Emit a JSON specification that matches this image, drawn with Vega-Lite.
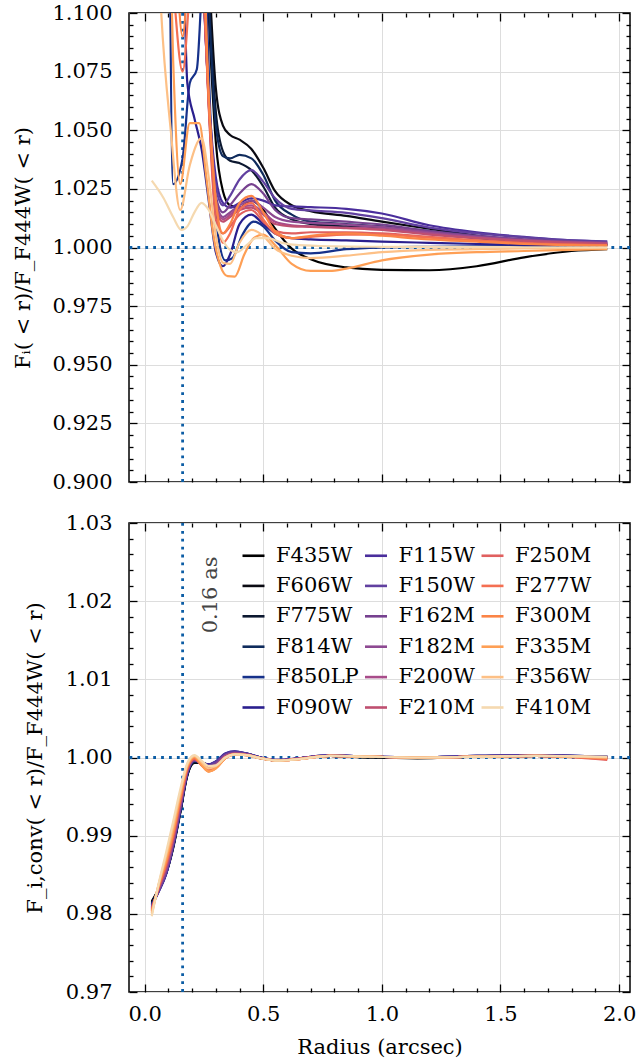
{
"$schema": "https://vega.github.io/schema/vega-lite/v6.json",
"padding": {"left": 12, "top": 1, "right": 10, "bottom": 5},
"bounds": "flush",
"spacing": 41,
"datasets": {
"top": [
{"f":"F435W","r":0.03,"v":1.40},{"f":"F435W","r":0.08,"v":1.36},{"f":"F435W","r":0.13,"v":1.32},{"f":"F435W","r":0.16,"v":1.30},{"f":"F435W","r":0.2,"v":1.26},{"f":"F435W","r":0.24,"v":1.18},{"f":"F435W","r":0.27,"v":1.10},{"f":"F435W","r":0.3,"v":1.045},{"f":"F435W","r":0.33,"v":1.024},{"f":"F435W","r":0.36,"v":1.018},{"f":"F435W","r":0.4,"v":1.017},{"f":"F435W","r":0.45,"v":1.020},{"f":"F435W","r":0.5,"v":1.016},{"f":"F435W","r":0.55,"v":1.008},{"f":"F435W","r":0.62,"v":0.9995},{"f":"F435W","r":0.7,"v":0.995},{"f":"F435W","r":0.85,"v":0.9915},{"f":"F435W","r":1.0,"v":0.9905},{"f":"F435W","r":1.2,"v":0.9903},{"f":"F435W","r":1.4,"v":0.992},{"f":"F435W","r":1.6,"v":0.9958},{"f":"F435W","r":1.8,"v":0.9985},{"f":"F435W","r":1.95,"v":0.9993},
{"f":"F606W","r":0.03,"v":1.40},{"f":"F606W","r":0.08,"v":1.36},{"f":"F606W","r":0.13,"v":1.32},{"f":"F606W","r":0.16,"v":1.30},{"f":"F606W","r":0.2,"v":1.26},{"f":"F606W","r":0.24,"v":1.19},{"f":"F606W","r":0.27,"v":1.12},{"f":"F606W","r":0.3,"v":1.068},{"f":"F606W","r":0.33,"v":1.052},{"f":"F606W","r":0.36,"v":1.048},{"f":"F606W","r":0.4,"v":1.046},{"f":"F606W","r":0.45,"v":1.042},{"f":"F606W","r":0.5,"v":1.034},{"f":"F606W","r":0.55,"v":1.024},{"f":"F606W","r":0.62,"v":1.018},{"f":"F606W","r":0.7,"v":1.0155},{"f":"F606W","r":0.85,"v":1.0135},{"f":"F606W","r":1.0,"v":1.011},{"f":"F606W","r":1.2,"v":1.008},{"f":"F606W","r":1.4,"v":1.005},{"f":"F606W","r":1.6,"v":1.003},{"f":"F606W","r":1.8,"v":1.002},{"f":"F606W","r":1.95,"v":1.0015},
{"f":"F775W","r":0.03,"v":1.40},{"f":"F775W","r":0.08,"v":1.36},{"f":"F775W","r":0.13,"v":1.32},{"f":"F775W","r":0.16,"v":1.30},{"f":"F775W","r":0.2,"v":1.26},{"f":"F775W","r":0.24,"v":1.19},{"f":"F775W","r":0.27,"v":1.11},{"f":"F775W","r":0.3,"v":1.058},{"f":"F775W","r":0.33,"v":1.041},{"f":"F775W","r":0.36,"v":1.037},{"f":"F775W","r":0.4,"v":1.036},{"f":"F775W","r":0.45,"v":1.033},{"f":"F775W","r":0.5,"v":1.026},{"f":"F775W","r":0.55,"v":1.017},{"f":"F775W","r":0.62,"v":1.012},{"f":"F775W","r":0.7,"v":1.010},{"f":"F775W","r":0.85,"v":1.009},{"f":"F775W","r":1.0,"v":1.008},{"f":"F775W","r":1.2,"v":1.006},{"f":"F775W","r":1.4,"v":1.004},{"f":"F775W","r":1.6,"v":1.0025},{"f":"F775W","r":1.8,"v":1.0015},{"f":"F775W","r":1.95,"v":1.001},
{"f":"F814W","r":0.03,"v":1.40},{"f":"F814W","r":0.08,"v":1.36},{"f":"F814W","r":0.13,"v":1.32},{"f":"F814W","r":0.16,"v":1.30},{"f":"F814W","r":0.2,"v":1.26},{"f":"F814W","r":0.24,"v":1.18},{"f":"F814W","r":0.27,"v":1.105},{"f":"F814W","r":0.3,"v":1.052},{"f":"F814W","r":0.33,"v":1.039},{"f":"F814W","r":0.36,"v":1.038},{"f":"F814W","r":0.4,"v":1.0395},{"f":"F814W","r":0.45,"v":1.038},{"f":"F814W","r":0.5,"v":1.031},{"f":"F814W","r":0.55,"v":1.020},{"f":"F814W","r":0.62,"v":1.014},{"f":"F814W","r":0.7,"v":1.011},{"f":"F814W","r":0.85,"v":1.010},{"f":"F814W","r":1.0,"v":1.009},{"f":"F814W","r":1.2,"v":1.007},{"f":"F814W","r":1.4,"v":1.005},{"f":"F814W","r":1.6,"v":1.003},{"f":"F814W","r":1.8,"v":1.002},{"f":"F814W","r":1.95,"v":1.0012},
{"f":"F850LP","r":0.03,"v":1.50},{"f":"F850LP","r":0.09,"v":1.30},{"f":"F850LP","r":0.12,"v":1.027},{"f":"F850LP","r":0.16,"v":1.038},{"f":"F850LP","r":0.19,"v":1.07},{"f":"F850LP","r":0.22,"v":1.076},{"f":"F850LP","r":0.25,"v":1.12},{"f":"F850LP","r":0.28,"v":1.05},{"f":"F850LP","r":0.31,"v":1.005},{"f":"F850LP","r":0.34,"v":0.9945},{"f":"F850LP","r":0.37,"v":0.9955},{"f":"F850LP","r":0.41,"v":1.005},{"f":"F850LP","r":0.46,"v":1.011},{"f":"F850LP","r":0.5,"v":1.009},{"f":"F850LP","r":0.55,"v":1.003},{"f":"F850LP","r":0.62,"v":0.998},{"f":"F850LP","r":0.7,"v":0.9975},{"f":"F850LP","r":0.85,"v":0.9993},{"f":"F850LP","r":1.0,"v":1.0},{"f":"F850LP","r":1.2,"v":1.0003},{"f":"F850LP","r":1.4,"v":1.0005},{"f":"F850LP","r":1.6,"v":1.0007},{"f":"F850LP","r":1.8,"v":1.0008},{"f":"F850LP","r":1.95,"v":1.001},
{"f":"F090W","r":0.03,"v":1.50},{"f":"F090W","r":0.1,"v":1.40},{"f":"F090W","r":0.15,"v":1.20},{"f":"F090W","r":0.18,"v":1.07},{"f":"F090W","r":0.21,"v":1.055},{"f":"F090W","r":0.24,"v":1.042},{"f":"F090W","r":0.27,"v":1.02},{"f":"F090W","r":0.3,"v":0.998},{"f":"F090W","r":0.33,"v":0.992},{"f":"F090W","r":0.36,"v":0.997},{"f":"F090W","r":0.4,"v":1.010},{"f":"F090W","r":0.45,"v":1.014},{"f":"F090W","r":0.5,"v":1.010},{"f":"F090W","r":0.55,"v":1.006},{"f":"F090W","r":0.62,"v":1.004},{"f":"F090W","r":0.7,"v":1.0035},{"f":"F090W","r":0.85,"v":1.003},{"f":"F090W","r":1.0,"v":1.0025},{"f":"F090W","r":1.2,"v":1.002},{"f":"F090W","r":1.4,"v":1.0015},{"f":"F090W","r":1.6,"v":1.0012},{"f":"F090W","r":1.8,"v":1.001},{"f":"F090W","r":1.95,"v":1.001},
{"f":"F115W","r":0.03,"v":1.45},{"f":"F115W","r":0.08,"v":1.42},{"f":"F115W","r":0.13,"v":1.38},{"f":"F115W","r":0.16,"v":1.35},{"f":"F115W","r":0.2,"v":1.26},{"f":"F115W","r":0.24,"v":1.13},{"f":"F115W","r":0.27,"v":1.065},{"f":"F115W","r":0.3,"v":1.03},{"f":"F115W","r":0.33,"v":1.019},{"f":"F115W","r":0.36,"v":1.017},{"f":"F115W","r":0.4,"v":1.019},{"f":"F115W","r":0.45,"v":1.021},{"f":"F115W","r":0.5,"v":1.020},{"f":"F115W","r":0.55,"v":1.018},{"f":"F115W","r":0.62,"v":1.0175},{"f":"F115W","r":0.7,"v":1.0172},{"f":"F115W","r":0.85,"v":1.0165},{"f":"F115W","r":1.0,"v":1.0145},{"f":"F115W","r":1.2,"v":1.0095},{"f":"F115W","r":1.4,"v":1.0065},{"f":"F115W","r":1.6,"v":1.0045},{"f":"F115W","r":1.8,"v":1.003},{"f":"F115W","r":1.95,"v":1.0025},
{"f":"F150W","r":0.03,"v":1.45},{"f":"F150W","r":0.08,"v":1.42},{"f":"F150W","r":0.13,"v":1.38},{"f":"F150W","r":0.16,"v":1.35},{"f":"F150W","r":0.2,"v":1.26},{"f":"F150W","r":0.24,"v":1.13},{"f":"F150W","r":0.27,"v":1.065},{"f":"F150W","r":0.3,"v":1.026},{"f":"F150W","r":0.33,"v":1.018},{"f":"F150W","r":0.36,"v":1.022},{"f":"F150W","r":0.4,"v":1.029},{"f":"F150W","r":0.45,"v":1.033},{"f":"F150W","r":0.5,"v":1.028},{"f":"F150W","r":0.55,"v":1.021},{"f":"F150W","r":0.62,"v":1.0165},{"f":"F150W","r":0.7,"v":1.0158},{"f":"F150W","r":0.85,"v":1.0148},{"f":"F150W","r":1.0,"v":1.0125},{"f":"F150W","r":1.2,"v":1.0085},{"f":"F150W","r":1.4,"v":1.006},{"f":"F150W","r":1.6,"v":1.0043},{"f":"F150W","r":1.8,"v":1.003},{"f":"F150W","r":1.95,"v":1.0025},
{"f":"F162M","r":0.03,"v":1.45},{"f":"F162M","r":0.08,"v":1.42},{"f":"F162M","r":0.13,"v":1.38},{"f":"F162M","r":0.16,"v":1.35},{"f":"F162M","r":0.2,"v":1.26},{"f":"F162M","r":0.24,"v":1.13},{"f":"F162M","r":0.27,"v":1.064},{"f":"F162M","r":0.3,"v":1.022},{"f":"F162M","r":0.33,"v":1.015},{"f":"F162M","r":0.36,"v":1.018},{"f":"F162M","r":0.4,"v":1.023},{"f":"F162M","r":0.45,"v":1.027},{"f":"F162M","r":0.5,"v":1.023},{"f":"F162M","r":0.55,"v":1.016},{"f":"F162M","r":0.62,"v":1.0125},{"f":"F162M","r":0.7,"v":1.012},{"f":"F162M","r":0.85,"v":1.011},{"f":"F162M","r":1.0,"v":1.0098},{"f":"F162M","r":1.2,"v":1.007},{"f":"F162M","r":1.4,"v":1.005},{"f":"F162M","r":1.6,"v":1.0035},{"f":"F162M","r":1.8,"v":1.0025},{"f":"F162M","r":1.95,"v":1.002},
{"f":"F182M","r":0.03,"v":1.45},{"f":"F182M","r":0.08,"v":1.42},{"f":"F182M","r":0.13,"v":1.38},{"f":"F182M","r":0.16,"v":1.35},{"f":"F182M","r":0.2,"v":1.26},{"f":"F182M","r":0.24,"v":1.13},{"f":"F182M","r":0.27,"v":1.063},{"f":"F182M","r":0.3,"v":1.02},{"f":"F182M","r":0.33,"v":1.013},{"f":"F182M","r":0.36,"v":1.015},{"f":"F182M","r":0.4,"v":1.018},{"f":"F182M","r":0.45,"v":1.020},{"f":"F182M","r":0.5,"v":1.017},{"f":"F182M","r":0.55,"v":1.013},{"f":"F182M","r":0.62,"v":1.011},{"f":"F182M","r":0.7,"v":1.0105},{"f":"F182M","r":0.85,"v":1.0098},{"f":"F182M","r":1.0,"v":1.0088},{"f":"F182M","r":1.2,"v":1.0065},{"f":"F182M","r":1.4,"v":1.0045},{"f":"F182M","r":1.6,"v":1.0032},{"f":"F182M","r":1.8,"v":1.0024},{"f":"F182M","r":1.95,"v":1.002},
{"f":"F200W","r":0.03,"v":1.45},{"f":"F200W","r":0.08,"v":1.42},{"f":"F200W","r":0.13,"v":1.38},{"f":"F200W","r":0.16,"v":1.35},{"f":"F200W","r":0.2,"v":1.26},{"f":"F200W","r":0.24,"v":1.13},{"f":"F200W","r":0.27,"v":1.062},{"f":"F200W","r":0.3,"v":1.018},{"f":"F200W","r":0.33,"v":1.012},{"f":"F200W","r":0.36,"v":1.014},{"f":"F200W","r":0.4,"v":1.017},{"f":"F200W","r":0.45,"v":1.018},{"f":"F200W","r":0.5,"v":1.015},{"f":"F200W","r":0.55,"v":1.011},{"f":"F200W","r":0.62,"v":1.0095},{"f":"F200W","r":0.7,"v":1.009},{"f":"F200W","r":0.85,"v":1.0085},{"f":"F200W","r":1.0,"v":1.008},{"f":"F200W","r":1.2,"v":1.006},{"f":"F200W","r":1.4,"v":1.0042},{"f":"F200W","r":1.6,"v":1.003},{"f":"F200W","r":1.8,"v":1.0022},{"f":"F200W","r":1.95,"v":1.0018},
{"f":"F210M","r":0.03,"v":1.45},{"f":"F210M","r":0.08,"v":1.42},{"f":"F210M","r":0.13,"v":1.38},{"f":"F210M","r":0.16,"v":1.35},{"f":"F210M","r":0.2,"v":1.26},{"f":"F210M","r":0.24,"v":1.13},{"f":"F210M","r":0.27,"v":1.061},{"f":"F210M","r":0.3,"v":1.016},{"f":"F210M","r":0.33,"v":1.011},{"f":"F210M","r":0.36,"v":1.013},{"f":"F210M","r":0.4,"v":1.016},{"f":"F210M","r":0.45,"v":1.017},{"f":"F210M","r":0.5,"v":1.014},{"f":"F210M","r":0.55,"v":1.010},{"f":"F210M","r":0.62,"v":1.009},{"f":"F210M","r":0.7,"v":1.0088},{"f":"F210M","r":0.85,"v":1.0082},{"f":"F210M","r":1.0,"v":1.0075},{"f":"F210M","r":1.2,"v":1.0055},{"f":"F210M","r":1.4,"v":1.004},{"f":"F210M","r":1.6,"v":1.0028},{"f":"F210M","r":1.8,"v":1.002},{"f":"F210M","r":1.95,"v":1.0016},
{"f":"F250M","r":0.03,"v":1.45},{"f":"F250M","r":0.08,"v":1.42},{"f":"F250M","r":0.13,"v":1.38},{"f":"F250M","r":0.16,"v":1.35},{"f":"F250M","r":0.2,"v":1.26},{"f":"F250M","r":0.24,"v":1.13},{"f":"F250M","r":0.27,"v":1.06},{"f":"F250M","r":0.3,"v":1.012},{"f":"F250M","r":0.33,"v":1.006},{"f":"F250M","r":0.36,"v":1.009},{"f":"F250M","r":0.4,"v":1.014},{"f":"F250M","r":0.45,"v":1.016},{"f":"F250M","r":0.5,"v":1.011},{"f":"F250M","r":0.55,"v":1.007},{"f":"F250M","r":0.62,"v":1.006},{"f":"F250M","r":0.7,"v":1.0065},{"f":"F250M","r":0.85,"v":1.0065},{"f":"F250M","r":1.0,"v":1.006},{"f":"F250M","r":1.2,"v":1.0045},{"f":"F250M","r":1.4,"v":1.003},{"f":"F250M","r":1.6,"v":1.002},{"f":"F250M","r":1.8,"v":1.0012},{"f":"F250M","r":1.95,"v":1.001},
{"f":"F277W","r":0.03,"v":1.45},{"f":"F277W","r":0.08,"v":1.20},{"f":"F277W","r":0.13,"v":1.10},{"f":"F277W","r":0.16,"v":1.075},{"f":"F277W","r":0.2,"v":1.12},{"f":"F277W","r":0.24,"v":1.13},{"f":"F277W","r":0.27,"v":1.062},{"f":"F277W","r":0.3,"v":1.02},{"f":"F277W","r":0.33,"v":1.002},{"f":"F277W","r":0.36,"v":1.006},{"f":"F277W","r":0.4,"v":1.016},{"f":"F277W","r":0.45,"v":1.019},{"f":"F277W","r":0.5,"v":1.012},{"f":"F277W","r":0.55,"v":1.006},{"f":"F277W","r":0.62,"v":1.004},{"f":"F277W","r":0.7,"v":1.0045},{"f":"F277W","r":0.85,"v":1.0055},{"f":"F277W","r":1.0,"v":1.0055},{"f":"F277W","r":1.2,"v":1.0042},{"f":"F277W","r":1.4,"v":1.003},{"f":"F277W","r":1.6,"v":1.0018},{"f":"F277W","r":1.8,"v":1.0012},{"f":"F277W","r":1.95,"v":1.001},
{"f":"F300M","r":0.03,"v":1.45},{"f":"F300M","r":0.08,"v":1.25},{"f":"F300M","r":0.13,"v":1.13},{"f":"F300M","r":0.16,"v":1.09},{"f":"F300M","r":0.2,"v":1.14},{"f":"F300M","r":0.24,"v":1.14},{"f":"F300M","r":0.27,"v":1.065},{"f":"F300M","r":0.3,"v":1.02},{"f":"F300M","r":0.33,"v":1.006},{"f":"F300M","r":0.36,"v":1.010},{"f":"F300M","r":0.4,"v":1.019},{"f":"F300M","r":0.45,"v":1.022},{"f":"F300M","r":0.5,"v":1.015},{"f":"F300M","r":0.55,"v":1.007},{"f":"F300M","r":0.62,"v":1.004},{"f":"F300M","r":0.7,"v":1.005},{"f":"F300M","r":0.85,"v":1.006},{"f":"F300M","r":1.0,"v":1.005},{"f":"F300M","r":1.2,"v":1.0035},{"f":"F300M","r":1.4,"v":1.0025},{"f":"F300M","r":1.6,"v":1.0015},{"f":"F300M","r":1.8,"v":1.001},{"f":"F300M","r":1.95,"v":1.0008},
{"f":"F335M","r":0.03,"v":1.45},{"f":"F335M","r":0.08,"v":1.25},{"f":"F335M","r":0.12,"v":1.08},{"f":"F335M","r":0.15,"v":1.027},{"f":"F335M","r":0.19,"v":1.053},{"f":"F335M","r":0.23,"v":1.053},{"f":"F335M","r":0.26,"v":1.03},{"f":"F335M","r":0.29,"v":1.005},{"f":"F335M","r":0.32,"v":0.992},{"f":"F335M","r":0.35,"v":0.9878},{"f":"F335M","r":0.38,"v":0.9876},{"f":"F335M","r":0.42,"v":0.997},{"f":"F335M","r":0.46,"v":1.004},{"f":"F335M","r":0.5,"v":1.0055},{"f":"F335M","r":0.55,"v":1.001},{"f":"F335M","r":0.62,"v":0.993},{"f":"F335M","r":0.7,"v":0.990},{"f":"F335M","r":0.78,"v":0.990},{"f":"F335M","r":0.85,"v":0.991},{"f":"F335M","r":1.0,"v":0.9945},{"f":"F335M","r":1.2,"v":0.997},{"f":"F335M","r":1.4,"v":0.998},{"f":"F335M","r":1.6,"v":0.9985},{"f":"F335M","r":1.8,"v":0.999},{"f":"F335M","r":1.95,"v":0.9993},
{"f":"F356W","r":0.03,"v":1.20},{"f":"F356W","r":0.07,"v":1.10},{"f":"F356W","r":0.11,"v":1.05},{"f":"F356W","r":0.15,"v":1.016},{"f":"F356W","r":0.19,"v":1.035},{"f":"F356W","r":0.24,"v":1.0466},{"f":"F356W","r":0.27,"v":1.03},{"f":"F356W","r":0.3,"v":1.005},{"f":"F356W","r":0.33,"v":0.9935},{"f":"F356W","r":0.36,"v":0.993},{"f":"F356W","r":0.4,"v":1.002},{"f":"F356W","r":0.45,"v":1.0075},{"f":"F356W","r":0.5,"v":1.005},{"f":"F356W","r":0.55,"v":0.9995},{"f":"F356W","r":0.62,"v":0.9965},{"f":"F356W","r":0.7,"v":0.9955},{"f":"F356W","r":0.85,"v":0.9965},{"f":"F356W","r":1.0,"v":0.998},{"f":"F356W","r":1.2,"v":0.999},{"f":"F356W","r":1.4,"v":0.9993},{"f":"F356W","r":1.6,"v":0.9996},{"f":"F356W","r":1.8,"v":0.9998},{"f":"F356W","r":1.95,"v":0.9999},
{"f":"F410M","r":0.03,"v":1.0285},{"f":"F410M","r":0.08,"v":1.021},{"f":"F410M","r":0.12,"v":1.013},{"f":"F410M","r":0.155,"v":1.0075},{"f":"F410M","r":0.18,"v":1.009},{"f":"F410M","r":0.21,"v":1.015},{"f":"F410M","r":0.24,"v":1.019},{"f":"F410M","r":0.27,"v":1.016},{"f":"F410M","r":0.3,"v":1.0095},{"f":"F410M","r":0.33,"v":1.003},{"f":"F410M","r":0.36,"v":0.999},{"f":"F410M","r":0.39,"v":0.998},{"f":"F410M","r":0.43,"v":1.001},{"f":"F410M","r":0.47,"v":1.004},{"f":"F410M","r":0.52,"v":1.004},{"f":"F410M","r":0.58,"v":1.002},{"f":"F410M","r":0.65,"v":1.001},{"f":"F410M","r":0.8,"v":1.0005},{"f":"F410M","r":1.0,"v":1.0003},{"f":"F410M","r":1.3,"v":1.0002},{"f":"F410M","r":1.6,"v":1.0001},{"f":"F410M","r":1.95,"v":1.0}
],
"bot": [
{"f":"F435W","r":0.03,"v":0.9816},{"f":"F435W","r":0.06,"v":0.9832},{"f":"F435W","r":0.09,"v":0.9851},{"f":"F435W","r":0.12,"v":0.9884},{"f":"F435W","r":0.15,"v":0.9929},{"f":"F435W","r":0.18,"v":0.9977},{"f":"F435W","r":0.21,"v":0.9993},{"f":"F435W","r":0.24,"v":0.9993},{"f":"F435W","r":0.27,"v":0.9991},{"f":"F435W","r":0.3,"v":0.9994},{"f":"F435W","r":0.34,"v":1.0003},{"f":"F435W","r":0.38,"v":1.0006},{"f":"F435W","r":0.43,"v":1.0004},{"f":"F435W","r":0.49,"v":0.9999},{"f":"F435W","r":0.56,"v":0.9996},{"f":"F435W","r":0.65,"v":0.9999},{"f":"F435W","r":0.78,"v":1.0002},{"f":"F435W","r":0.95,"v":1.0},{"f":"F435W","r":1.15,"v":0.9999},{"f":"F435W","r":1.4,"v":1.0001},{"f":"F435W","r":1.65,"v":1.0002},{"f":"F435W","r":1.95,"v":1.0},
{"f":"F606W","r":0.03,"v":0.9815},{"f":"F606W","r":0.06,"v":0.9832},{"f":"F606W","r":0.09,"v":0.9852},{"f":"F606W","r":0.12,"v":0.9885},{"f":"F606W","r":0.15,"v":0.993},{"f":"F606W","r":0.18,"v":0.9978},{"f":"F606W","r":0.21,"v":0.9994},{"f":"F606W","r":0.24,"v":0.9993},{"f":"F606W","r":0.27,"v":0.9991},{"f":"F606W","r":0.3,"v":0.9994},{"f":"F606W","r":0.34,"v":1.0003},{"f":"F606W","r":0.38,"v":1.0006},{"f":"F606W","r":0.43,"v":1.0004},{"f":"F606W","r":0.49,"v":0.9999},{"f":"F606W","r":0.56,"v":0.9996},{"f":"F606W","r":0.65,"v":0.9999},{"f":"F606W","r":0.78,"v":1.0002},{"f":"F606W","r":0.95,"v":1.0},{"f":"F606W","r":1.15,"v":1.0},{"f":"F606W","r":1.4,"v":1.0001},{"f":"F606W","r":1.65,"v":1.0002},{"f":"F606W","r":1.95,"v":1.0},
{"f":"F775W","r":0.03,"v":0.9814},{"f":"F775W","r":0.06,"v":0.9831},{"f":"F775W","r":0.09,"v":0.9852},{"f":"F775W","r":0.12,"v":0.9886},{"f":"F775W","r":0.15,"v":0.9931},{"f":"F775W","r":0.18,"v":0.9978},{"f":"F775W","r":0.21,"v":0.9994},{"f":"F775W","r":0.24,"v":0.9993},{"f":"F775W","r":0.27,"v":0.9991},{"f":"F775W","r":0.3,"v":0.9994},{"f":"F775W","r":0.34,"v":1.0004},{"f":"F775W","r":0.38,"v":1.0006},{"f":"F775W","r":0.43,"v":1.0004},{"f":"F775W","r":0.49,"v":0.9999},{"f":"F775W","r":0.56,"v":0.9996},{"f":"F775W","r":0.65,"v":0.9999},{"f":"F775W","r":0.78,"v":1.0002},{"f":"F775W","r":0.95,"v":1.0001},{"f":"F775W","r":1.15,"v":1.0},{"f":"F775W","r":1.4,"v":1.0001},{"f":"F775W","r":1.65,"v":1.0002},{"f":"F775W","r":1.95,"v":1.0},
{"f":"F814W","r":0.03,"v":0.9813},{"f":"F814W","r":0.06,"v":0.9831},{"f":"F814W","r":0.09,"v":0.9852},{"f":"F814W","r":0.12,"v":0.9886},{"f":"F814W","r":0.15,"v":0.9931},{"f":"F814W","r":0.18,"v":0.9979},{"f":"F814W","r":0.21,"v":0.9995},{"f":"F814W","r":0.24,"v":0.9993},{"f":"F814W","r":0.27,"v":0.9991},{"f":"F814W","r":0.3,"v":0.9994},{"f":"F814W","r":0.34,"v":1.0004},{"f":"F814W","r":0.38,"v":1.0007},{"f":"F814W","r":0.43,"v":1.0005},{"f":"F814W","r":0.49,"v":1.0},{"f":"F814W","r":0.56,"v":0.9996},{"f":"F814W","r":0.65,"v":0.9999},{"f":"F814W","r":0.78,"v":1.0002},{"f":"F814W","r":0.95,"v":1.0001},{"f":"F814W","r":1.15,"v":1.0},{"f":"F814W","r":1.4,"v":1.0001},{"f":"F814W","r":1.65,"v":1.0002},{"f":"F814W","r":1.95,"v":1.0001},
{"f":"F850LP","r":0.03,"v":0.9812},{"f":"F850LP","r":0.06,"v":0.983},{"f":"F850LP","r":0.09,"v":0.9851},{"f":"F850LP","r":0.12,"v":0.9886},{"f":"F850LP","r":0.15,"v":0.9932},{"f":"F850LP","r":0.18,"v":0.998},{"f":"F850LP","r":0.21,"v":0.9996},{"f":"F850LP","r":0.24,"v":0.9994},{"f":"F850LP","r":0.27,"v":0.9991},{"f":"F850LP","r":0.3,"v":0.9994},{"f":"F850LP","r":0.34,"v":1.0004},{"f":"F850LP","r":0.38,"v":1.0007},{"f":"F850LP","r":0.43,"v":1.0005},{"f":"F850LP","r":0.49,"v":1.0},{"f":"F850LP","r":0.56,"v":0.9996},{"f":"F850LP","r":0.65,"v":0.9999},{"f":"F850LP","r":0.78,"v":1.0002},{"f":"F850LP","r":0.95,"v":1.0001},{"f":"F850LP","r":1.15,"v":1.0},{"f":"F850LP","r":1.4,"v":1.0002},{"f":"F850LP","r":1.65,"v":1.0003},{"f":"F850LP","r":1.95,"v":1.0001},
{"f":"F090W","r":0.03,"v":0.9811},{"f":"F090W","r":0.06,"v":0.9829},{"f":"F090W","r":0.09,"v":0.985},{"f":"F090W","r":0.12,"v":0.9886},{"f":"F090W","r":0.15,"v":0.9932},{"f":"F090W","r":0.18,"v":0.998},{"f":"F090W","r":0.21,"v":0.9996},{"f":"F090W","r":0.24,"v":0.9994},{"f":"F090W","r":0.27,"v":0.9991},{"f":"F090W","r":0.3,"v":0.9995},{"f":"F090W","r":0.34,"v":1.0005},{"f":"F090W","r":0.38,"v":1.0008},{"f":"F090W","r":0.43,"v":1.0005},{"f":"F090W","r":0.49,"v":1.0},{"f":"F090W","r":0.56,"v":0.9996},{"f":"F090W","r":0.65,"v":0.9999},{"f":"F090W","r":0.78,"v":1.0003},{"f":"F090W","r":0.95,"v":1.0001},{"f":"F090W","r":1.15,"v":1.0},{"f":"F090W","r":1.4,"v":1.0002},{"f":"F090W","r":1.65,"v":1.0003},{"f":"F090W","r":1.95,"v":1.0001},
{"f":"F115W","r":0.03,"v":0.9811},{"f":"F115W","r":0.06,"v":0.9829},{"f":"F115W","r":0.09,"v":0.9851},{"f":"F115W","r":0.12,"v":0.9887},{"f":"F115W","r":0.15,"v":0.9933},{"f":"F115W","r":0.18,"v":0.9981},{"f":"F115W","r":0.21,"v":0.9996},{"f":"F115W","r":0.24,"v":0.9994},{"f":"F115W","r":0.27,"v":0.9991},{"f":"F115W","r":0.3,"v":0.9995},{"f":"F115W","r":0.34,"v":1.0005},{"f":"F115W","r":0.38,"v":1.0008},{"f":"F115W","r":0.43,"v":1.0005},{"f":"F115W","r":0.49,"v":1.0},{"f":"F115W","r":0.56,"v":0.9997},{"f":"F115W","r":0.65,"v":0.9999},{"f":"F115W","r":0.78,"v":1.0003},{"f":"F115W","r":0.95,"v":1.0001},{"f":"F115W","r":1.15,"v":1.0},{"f":"F115W","r":1.4,"v":1.0002},{"f":"F115W","r":1.65,"v":1.0003},{"f":"F115W","r":1.95,"v":1.0001},
{"f":"F150W","r":0.03,"v":0.981},{"f":"F150W","r":0.06,"v":0.983},{"f":"F150W","r":0.09,"v":0.9852},{"f":"F150W","r":0.12,"v":0.9888},{"f":"F150W","r":0.15,"v":0.9934},{"f":"F150W","r":0.18,"v":0.9981},{"f":"F150W","r":0.21,"v":0.9996},{"f":"F150W","r":0.24,"v":0.9993},{"f":"F150W","r":0.27,"v":0.999},{"f":"F150W","r":0.3,"v":0.9994},{"f":"F150W","r":0.34,"v":1.0004},{"f":"F150W","r":0.38,"v":1.0007},{"f":"F150W","r":0.43,"v":1.0005},{"f":"F150W","r":0.49,"v":1.0},{"f":"F150W","r":0.56,"v":0.9997},{"f":"F150W","r":0.65,"v":0.9999},{"f":"F150W","r":0.78,"v":1.0003},{"f":"F150W","r":0.95,"v":1.0001},{"f":"F150W","r":1.15,"v":1.0},{"f":"F150W","r":1.4,"v":1.0002},{"f":"F150W","r":1.65,"v":1.0003},{"f":"F150W","r":1.95,"v":1.0},
{"f":"F162M","r":0.03,"v":0.9809},{"f":"F162M","r":0.06,"v":0.9831},{"f":"F162M","r":0.09,"v":0.9854},{"f":"F162M","r":0.12,"v":0.989},{"f":"F162M","r":0.15,"v":0.9936},{"f":"F162M","r":0.18,"v":0.9982},{"f":"F162M","r":0.21,"v":0.9997},{"f":"F162M","r":0.24,"v":0.9993},{"f":"F162M","r":0.27,"v":0.9989},{"f":"F162M","r":0.3,"v":0.9992},{"f":"F162M","r":0.34,"v":1.0003},{"f":"F162M","r":0.38,"v":1.0006},{"f":"F162M","r":0.43,"v":1.0004},{"f":"F162M","r":0.49,"v":0.9999},{"f":"F162M","r":0.56,"v":0.9996},{"f":"F162M","r":0.65,"v":0.9999},{"f":"F162M","r":0.78,"v":1.0002},{"f":"F162M","r":0.95,"v":1.0001},{"f":"F162M","r":1.15,"v":1.0},{"f":"F162M","r":1.4,"v":1.0001},{"f":"F162M","r":1.65,"v":1.0002},{"f":"F162M","r":1.95,"v":1.0},
{"f":"F182M","r":0.03,"v":0.9808},{"f":"F182M","r":0.06,"v":0.9832},{"f":"F182M","r":0.09,"v":0.9856},{"f":"F182M","r":0.12,"v":0.9892},{"f":"F182M","r":0.15,"v":0.9938},{"f":"F182M","r":0.18,"v":0.9983},{"f":"F182M","r":0.21,"v":0.9997},{"f":"F182M","r":0.24,"v":0.9992},{"f":"F182M","r":0.27,"v":0.9988},{"f":"F182M","r":0.3,"v":0.9991},{"f":"F182M","r":0.34,"v":1.0002},{"f":"F182M","r":0.38,"v":1.0005},{"f":"F182M","r":0.43,"v":1.0004},{"f":"F182M","r":0.49,"v":0.9999},{"f":"F182M","r":0.56,"v":0.9996},{"f":"F182M","r":0.65,"v":0.9999},{"f":"F182M","r":0.78,"v":1.0002},{"f":"F182M","r":0.95,"v":1.0001},{"f":"F182M","r":1.15,"v":1.0},{"f":"F182M","r":1.4,"v":1.0001},{"f":"F182M","r":1.65,"v":1.0002},{"f":"F182M","r":1.95,"v":1.0},
{"f":"F200W","r":0.03,"v":0.9807},{"f":"F200W","r":0.06,"v":0.9833},{"f":"F200W","r":0.09,"v":0.9858},{"f":"F200W","r":0.12,"v":0.9894},{"f":"F200W","r":0.15,"v":0.994},{"f":"F200W","r":0.18,"v":0.9984},{"f":"F200W","r":0.21,"v":0.9998},{"f":"F200W","r":0.24,"v":0.9992},{"f":"F200W","r":0.27,"v":0.9987},{"f":"F200W","r":0.3,"v":0.999},{"f":"F200W","r":0.34,"v":1.0002},{"f":"F200W","r":0.38,"v":1.0005},{"f":"F200W","r":0.43,"v":1.0004},{"f":"F200W","r":0.49,"v":0.9999},{"f":"F200W","r":0.56,"v":0.9996},{"f":"F200W","r":0.65,"v":0.9999},{"f":"F200W","r":0.78,"v":1.0002},{"f":"F200W","r":0.95,"v":1.0001},{"f":"F200W","r":1.15,"v":1.0},{"f":"F200W","r":1.4,"v":1.0001},{"f":"F200W","r":1.65,"v":1.0002},{"f":"F200W","r":1.95,"v":0.9999},
{"f":"F210M","r":0.03,"v":0.9806},{"f":"F210M","r":0.06,"v":0.9834},{"f":"F210M","r":0.09,"v":0.986},{"f":"F210M","r":0.12,"v":0.9896},{"f":"F210M","r":0.15,"v":0.9942},{"f":"F210M","r":0.18,"v":0.9985},{"f":"F210M","r":0.21,"v":0.9998},{"f":"F210M","r":0.24,"v":0.9991},{"f":"F210M","r":0.27,"v":0.9986},{"f":"F210M","r":0.3,"v":0.9989},{"f":"F210M","r":0.34,"v":1.0001},{"f":"F210M","r":0.38,"v":1.0005},{"f":"F210M","r":0.43,"v":1.0003},{"f":"F210M","r":0.49,"v":0.9999},{"f":"F210M","r":0.56,"v":0.9996},{"f":"F210M","r":0.65,"v":0.9998},{"f":"F210M","r":0.78,"v":1.0002},{"f":"F210M","r":0.95,"v":1.0001},{"f":"F210M","r":1.15,"v":1.0},{"f":"F210M","r":1.4,"v":1.0001},{"f":"F210M","r":1.65,"v":1.0002},{"f":"F210M","r":1.95,"v":0.9999},
{"f":"F250M","r":0.03,"v":0.9805},{"f":"F250M","r":0.06,"v":0.9835},{"f":"F250M","r":0.09,"v":0.9862},{"f":"F250M","r":0.12,"v":0.9898},{"f":"F250M","r":0.15,"v":0.9944},{"f":"F250M","r":0.18,"v":0.9986},{"f":"F250M","r":0.21,"v":0.9999},{"f":"F250M","r":0.24,"v":0.9991},{"f":"F250M","r":0.27,"v":0.9985},{"f":"F250M","r":0.3,"v":0.9988},{"f":"F250M","r":0.34,"v":1.0},{"f":"F250M","r":0.38,"v":1.0004},{"f":"F250M","r":0.43,"v":1.0003},{"f":"F250M","r":0.49,"v":0.9999},{"f":"F250M","r":0.56,"v":0.9996},{"f":"F250M","r":0.65,"v":0.9998},{"f":"F250M","r":0.78,"v":1.0002},{"f":"F250M","r":0.95,"v":1.0001},{"f":"F250M","r":1.15,"v":1.0},{"f":"F250M","r":1.4,"v":1.0001},{"f":"F250M","r":1.65,"v":1.0002},{"f":"F250M","r":1.95,"v":0.9997},
{"f":"F277W","r":0.03,"v":0.9804},{"f":"F277W","r":0.06,"v":0.9836},{"f":"F277W","r":0.09,"v":0.9864},{"f":"F277W","r":0.12,"v":0.9901},{"f":"F277W","r":0.15,"v":0.9946},{"f":"F277W","r":0.18,"v":0.9987},{"f":"F277W","r":0.21,"v":0.9999},{"f":"F277W","r":0.24,"v":0.999},{"f":"F277W","r":0.27,"v":0.9983},{"f":"F277W","r":0.3,"v":0.9987},{"f":"F277W","r":0.34,"v":0.9999},{"f":"F277W","r":0.38,"v":1.0004},{"f":"F277W","r":0.43,"v":1.0003},{"f":"F277W","r":0.49,"v":0.9999},{"f":"F277W","r":0.56,"v":0.9996},{"f":"F277W","r":0.65,"v":0.9998},{"f":"F277W","r":0.78,"v":1.0002},{"f":"F277W","r":0.95,"v":1.0001},{"f":"F277W","r":1.15,"v":1.0},{"f":"F277W","r":1.4,"v":1.0001},{"f":"F277W","r":1.65,"v":1.0002},{"f":"F277W","r":1.95,"v":0.9998},
{"f":"F300M","r":0.03,"v":0.9803},{"f":"F300M","r":0.06,"v":0.9837},{"f":"F300M","r":0.09,"v":0.9866},{"f":"F300M","r":0.12,"v":0.9903},{"f":"F300M","r":0.15,"v":0.9948},{"f":"F300M","r":0.18,"v":0.9988},{"f":"F300M","r":0.21,"v":1.0},{"f":"F300M","r":0.24,"v":0.999},{"f":"F300M","r":0.27,"v":0.9982},{"f":"F300M","r":0.3,"v":0.9986},{"f":"F300M","r":0.34,"v":0.9999},{"f":"F300M","r":0.38,"v":1.0004},{"f":"F300M","r":0.43,"v":1.0003},{"f":"F300M","r":0.49,"v":0.9999},{"f":"F300M","r":0.56,"v":0.9996},{"f":"F300M","r":0.65,"v":0.9998},{"f":"F300M","r":0.78,"v":1.0002},{"f":"F300M","r":0.95,"v":1.0001},{"f":"F300M","r":1.15,"v":1.0},{"f":"F300M","r":1.4,"v":1.0001},{"f":"F300M","r":1.65,"v":1.0002},{"f":"F300M","r":1.95,"v":0.9999},
{"f":"F335M","r":0.03,"v":0.9801},{"f":"F335M","r":0.06,"v":0.9838},{"f":"F335M","r":0.09,"v":0.9869},{"f":"F335M","r":0.12,"v":0.9906},{"f":"F335M","r":0.15,"v":0.9951},{"f":"F335M","r":0.18,"v":0.9989},{"f":"F335M","r":0.21,"v":1.0001},{"f":"F335M","r":0.24,"v":0.9991},{"f":"F335M","r":0.27,"v":0.9982},{"f":"F335M","r":0.3,"v":0.9986},{"f":"F335M","r":0.34,"v":0.9999},{"f":"F335M","r":0.38,"v":1.0004},{"f":"F335M","r":0.43,"v":1.0003},{"f":"F335M","r":0.49,"v":0.9999},{"f":"F335M","r":0.56,"v":0.9996},{"f":"F335M","r":0.65,"v":0.9998},{"f":"F335M","r":0.78,"v":1.0002},{"f":"F335M","r":0.95,"v":1.0001},{"f":"F335M","r":1.15,"v":1.0},{"f":"F335M","r":1.4,"v":1.0001},{"f":"F335M","r":1.65,"v":1.0002},{"f":"F335M","r":1.95,"v":1.0},
{"f":"F356W","r":0.03,"v":0.9799},{"f":"F356W","r":0.06,"v":0.9839},{"f":"F356W","r":0.09,"v":0.9874},{"f":"F356W","r":0.12,"v":0.9912},{"f":"F356W","r":0.15,"v":0.9955},{"f":"F356W","r":0.18,"v":0.9991},{"f":"F356W","r":0.21,"v":1.0002},{"f":"F356W","r":0.24,"v":0.9994},{"f":"F356W","r":0.27,"v":0.9986},{"f":"F356W","r":0.3,"v":0.9989},{"f":"F356W","r":0.34,"v":1.0},{"f":"F356W","r":0.38,"v":1.0004},{"f":"F356W","r":0.43,"v":1.0003},{"f":"F356W","r":0.49,"v":0.9999},{"f":"F356W","r":0.56,"v":0.9996},{"f":"F356W","r":0.65,"v":0.9998},{"f":"F356W","r":0.78,"v":1.0002},{"f":"F356W","r":0.95,"v":1.0001},{"f":"F356W","r":1.15,"v":1.0},{"f":"F356W","r":1.4,"v":1.0001},{"f":"F356W","r":1.65,"v":1.0002},{"f":"F356W","r":1.95,"v":1.0},
{"f":"F410M","r":0.03,"v":0.9797},{"f":"F410M","r":0.06,"v":0.984},{"f":"F410M","r":0.09,"v":0.9878},{"f":"F410M","r":0.12,"v":0.9918},{"f":"F410M","r":0.15,"v":0.9959},{"f":"F410M","r":0.18,"v":0.9993},{"f":"F410M","r":0.21,"v":1.0003},{"f":"F410M","r":0.24,"v":0.9996},{"f":"F410M","r":0.27,"v":0.9989},{"f":"F410M","r":0.3,"v":0.999},{"f":"F410M","r":0.34,"v":1.0},{"f":"F410M","r":0.38,"v":1.0004},{"f":"F410M","r":0.43,"v":1.0003},{"f":"F410M","r":0.49,"v":0.9999},{"f":"F410M","r":0.56,"v":0.9996},{"f":"F410M","r":0.65,"v":0.9998},{"f":"F410M","r":0.78,"v":1.0002},{"f":"F410M","r":0.95,"v":1.0001},{"f":"F410M","r":1.15,"v":1.0},{"f":"F410M","r":1.4,"v":1.0001},{"f":"F410M","r":1.65,"v":1.0002},{"f":"F410M","r":1.95,"v":1.0001}
]
},
"vconcat": [
{
"width": 501, "height": 469,
"layer": [
{"data": {"values": [{}]}, "mark": {"type": "rule", "color": "#0C5DA5", "strokeWidth": 2.8, "strokeDash": [2.8, 5.1]},
 "encoding": {"x": {"datum": 0.16, "type": "quantitative", "scale": {"domain": [-0.066, 2.046], "nice": false, "zero": false},
   "axis": {"orient": "bottom", "values": [0.1,0.2,0.3,0.4,0.6,0.7,0.8,0.9,1.1,1.2,1.3,1.4,1.6,1.7,1.8,1.9], "labels": false, "grid": false, "tickSize": -4, "title": null}}}},
{"data": {"values": [{}]}, "mark": {"type": "rule", "color": "#0C5DA5", "strokeWidth": 2.8, "strokeDash": [2.8, 5.1]},
 "encoding": {"y": {"datum": 1.0, "type": "quantitative", "scale": {"domain": [0.9, 1.1], "nice": false, "zero": false},
   "axis": {"orient": "left", "values": [0.905,0.91,0.915,0.92,0.93,0.935,0.94,0.945,0.955,0.96,0.965,0.97,0.98,0.985,0.99,0.995,1.005,1.01,1.015,1.02,1.03,1.035,1.04,1.045,1.055,1.06,1.065,1.07,1.08,1.085,1.09,1.095], "labels": false, "grid": false, "tickSize": -4, "title": null}}}},
{"data": {"name": "top"}, "mark": {"type": "line", "strokeWidth": 2.2, "clip": true, "interpolate": "monotone"},
 "encoding": {
   "x": {"field": "r", "type": "quantitative", "scale": {"domain": [-0.066, 2.046], "nice": false, "zero": false},
     "axis": {"orient": "bottom", "values": [0, 0.5, 1, 1.5, 2], "labels": false, "ticks": false, "grid": true, "title": null}},
   "y": {"field": "v", "type": "quantitative", "scale": {"domain": [0.9, 1.1], "nice": false, "zero": false},
     "axis": {"orient": "left", "values": [0.9,0.925,0.95,0.975,1.0,1.025,1.05,1.075,1.1], "format": ".3f", "grid": true, "ticks": false, "labelPadding": 17, "title": "Fᵢ( < r)/F_F444W( < r)", "titlePadding": 18}},
   "color": {"field": "f", "type": "nominal", "legend": null,
     "scale": {"domain": ["F435W","F606W","F775W","F814W","F850LP","F090W","F115W","F150W","F162M","F182M","F200W","F210M","F250M","F277W","F300M","F335M","F356W","F410M"],
               "range": ["#000000","#0a0a12","#0c1830","#0f2b5c","#16318a","#2a1f8e","#4a2e9c","#6140a0","#76418f","#8e4a92","#a84c8a","#bf4f70","#e0605f","#f46f52","#fb8446","#fe9f55","#fdc086","#f5d9b0"]}}
 }},
{"data": {"values": [{}]}, "mark": {"type": "point", "opacity": 0},
 "encoding": {
   "x": {"datum": 1, "type": "quantitative", "scale": {"domain": [-0.066, 2.046], "nice": false, "zero": false}, "axis": {"orient": "bottom", "values": [0, 0.5, 1, 1.5, 2], "labels": false, "grid": false, "tickSize": -8, "title": null}},
   "y": {"datum": 1, "type": "quantitative", "scale": {"domain": [0.9, 1.1], "nice": false, "zero": false}, "axis": {"orient": "left", "values": [0.9,0.925,0.95,0.975,1.0,1.025,1.05,1.075,1.1], "labels": false, "grid": false, "tickSize": -8, "title": null}}
 }},
{"data": {"values": [{}]}, "mark": {"type": "point", "opacity": 0},
 "encoding": {
   "x": {"datum": 1, "type": "quantitative", "scale": {"domain": [-0.066, 2.046], "nice": false, "zero": false}, "axis": {"orient": "top", "values": [0, 0.5, 1, 1.5, 2], "labels": false, "grid": false, "tickSize": -8, "title": null}},
   "y": {"datum": 1, "type": "quantitative", "scale": {"domain": [0.9, 1.1], "nice": false, "zero": false}, "axis": {"orient": "right", "values": [0.9,0.925,0.95,0.975,1.0,1.025,1.05,1.075,1.1], "labels": false, "grid": false, "tickSize": -8, "title": null}}
 }},
{"data": {"values": [{}]}, "mark": {"type": "point", "opacity": 0},
 "encoding": {
   "x": {"datum": 1, "type": "quantitative", "scale": {"domain": [-0.066, 2.046], "nice": false, "zero": false}, "axis": {"orient": "top", "values": [0.1,0.2,0.3,0.4,0.6,0.7,0.8,0.9,1.1,1.2,1.3,1.4,1.6,1.7,1.8,1.9], "labels": false, "grid": false, "tickSize": -4, "title": null}},
   "y": {"datum": 1, "type": "quantitative", "scale": {"domain": [0.9, 1.1], "nice": false, "zero": false}, "axis": {"orient": "right", "values": [0.905,0.91,0.915,0.92,0.93,0.935,0.94,0.945,0.955,0.96,0.965,0.97,0.98,0.985,0.99,0.995,1.005,1.01,1.015,1.02,1.03,1.035,1.04,1.045,1.055,1.06,1.065,1.07,1.08,1.085,1.09,1.095], "labels": false, "grid": false, "tickSize": -4, "title": null}}
 }}
],
"resolve": {"axis": {"x": "independent", "y": "independent"}}
},
{
"width": 501, "height": 469,
"layer": [
{"data": {"values": [{}]}, "mark": {"type": "rule", "color": "#0C5DA5", "strokeWidth": 2.8, "strokeDash": [2.8, 5.1]},
 "encoding": {"x": {"datum": 0.16, "type": "quantitative", "scale": {"domain": [-0.066, 2.046], "nice": false, "zero": false},
   "axis": {"orient": "bottom", "values": [0.1,0.2,0.3,0.4,0.6,0.7,0.8,0.9,1.1,1.2,1.3,1.4,1.6,1.7,1.8,1.9], "labels": false, "grid": false, "tickSize": -4, "title": null}}}},
{"data": {"values": [{}]}, "mark": {"type": "rule", "color": "#0C5DA5", "strokeWidth": 2.8, "strokeDash": [2.8, 5.1]},
 "encoding": {"y": {"datum": 1.0, "type": "quantitative", "scale": {"domain": [0.97, 1.03], "nice": false, "zero": false},
   "axis": {"orient": "left", "values": [0.972,0.974,0.976,0.978,0.982,0.984,0.986,0.988,0.992,0.994,0.996,0.998,1.002,1.004,1.006,1.008,1.012,1.014,1.016,1.018,1.022,1.024,1.026,1.028], "labels": false, "grid": false, "tickSize": -4, "title": null}}}},
{"data": {"name": "bot"}, "mark": {"type": "line", "strokeWidth": 2.2, "clip": true, "interpolate": "monotone"},
 "encoding": {
   "x": {"field": "r", "type": "quantitative", "scale": {"domain": [-0.066, 2.046], "nice": false, "zero": false},
     "axis": {"orient": "bottom", "values": [0, 0.5, 1, 1.5, 2], "format": ".1f", "grid": true, "ticks": false, "labelPadding": 11, "title": "Radius (arcsec)", "titlePadding": 12}},
   "y": {"field": "v", "type": "quantitative", "scale": {"domain": [0.97, 1.03], "nice": false, "zero": false},
     "axis": {"orient": "left", "values": [0.97,0.98,0.99,1.0,1.01,1.02,1.03], "format": ".2f", "grid": true, "ticks": false, "labelPadding": 17, "title": "F_i,conv( < r)/F_F444W( < r)", "titlePadding": 20}},
   "color": {"field": "f", "type": "nominal",
     "scale": {"domain": ["F435W","F606W","F775W","F814W","F850LP","F090W","F115W","F150W","F162M","F182M","F200W","F210M","F250M","F277W","F300M","F335M","F356W","F410M"],
               "range": ["#000000","#0a0a12","#0c1830","#0f2b5c","#16318a","#2a1f8e","#4a2e9c","#6140a0","#76418f","#8e4a92","#a84c8a","#bf4f70","#e0605f","#f46f52","#fb8446","#fe9f55","#fdc086","#f5d9b0"]},
     "legend": {"orient": "none", "legendX": 112, "legendY": 20, "columns": 3, "title": null, "symbolType": "stroke", "symbolStrokeWidth": 2.6, "symbolSize": 484, "labelFont": "DejaVu Serif, Liberation Serif, serif", "labelFontSize": 21, "labelColor": "#000", "labelOffset": 10, "rowPadding": 7.4, "columnPadding": 0.5, "padding": 0}}
 }},
{"data": {"values": [{}]}, "mark": {"type": "text", "angle": 270, "align": "center", "baseline": "middle", "font": "DejaVu Serif, Liberation Serif, serif", "fontSize": 21, "color": "#444444"},
 "encoding": {
   "x": {"datum": 0.281, "type": "quantitative", "axis": null},
   "y": {"datum": 1.0208, "type": "quantitative", "axis": null},
   "text": {"value": "0.16 as"}
 }},
{"data": {"values": [{}]}, "mark": {"type": "point", "opacity": 0},
 "encoding": {
   "x": {"datum": 1, "type": "quantitative", "scale": {"domain": [-0.066, 2.046], "nice": false, "zero": false}, "axis": {"orient": "bottom", "values": [0, 0.5, 1, 1.5, 2], "labels": false, "grid": false, "tickSize": -8, "title": null}},
   "y": {"datum": 1, "type": "quantitative", "scale": {"domain": [0.97, 1.03], "nice": false, "zero": false}, "axis": {"orient": "left", "values": [0.97,0.98,0.99,1.0,1.01,1.02,1.03], "labels": false, "grid": false, "tickSize": -8, "title": null}}
 }},
{"data": {"values": [{}]}, "mark": {"type": "point", "opacity": 0},
 "encoding": {
   "x": {"datum": 1, "type": "quantitative", "scale": {"domain": [-0.066, 2.046], "nice": false, "zero": false}, "axis": {"orient": "top", "values": [0, 0.5, 1, 1.5, 2], "labels": false, "grid": false, "tickSize": -8, "title": null}},
   "y": {"datum": 1, "type": "quantitative", "scale": {"domain": [0.97, 1.03], "nice": false, "zero": false}, "axis": {"orient": "right", "values": [0.97,0.98,0.99,1.0,1.01,1.02,1.03], "labels": false, "grid": false, "tickSize": -8, "title": null}}
 }},
{"data": {"values": [{}]}, "mark": {"type": "point", "opacity": 0},
 "encoding": {
   "x": {"datum": 1, "type": "quantitative", "scale": {"domain": [-0.066, 2.046], "nice": false, "zero": false}, "axis": {"orient": "top", "values": [0.1,0.2,0.3,0.4,0.6,0.7,0.8,0.9,1.1,1.2,1.3,1.4,1.6,1.7,1.8,1.9], "labels": false, "grid": false, "tickSize": -4, "title": null}},
   "y": {"datum": 1, "type": "quantitative", "scale": {"domain": [0.97, 1.03], "nice": false, "zero": false}, "axis": {"orient": "right", "values": [0.972,0.974,0.976,0.978,0.982,0.984,0.986,0.988,0.992,0.994,0.996,0.998,1.002,1.004,1.006,1.008,1.012,1.014,1.016,1.018,1.022,1.024,1.026,1.028], "labels": false, "grid": false, "tickSize": -4, "title": null}}
 }}
],
"resolve": {"axis": {"x": "independent", "y": "independent"}}
}
],
"resolve": {"scale": {"color": "independent"}},
"config": {
  "font": "DejaVu Serif, Liberation Serif, serif",
  "view": {"stroke": "#000000", "strokeWidth": 1.5},
  "axis": {"labelFont": "DejaVu Serif, Liberation Serif, serif", "labelFontSize": 21, "labelColor": "#000000", "titleFont": "DejaVu Serif, Liberation Serif, serif", "titleFontSize": 21, "titleFontWeight": "normal", "titleColor": "#000000", "tickColor": "#000000", "tickWidth": 1.3, "gridColor": "#dddddd", "gridWidth": 1, "domain": false, "labelFlush": false, "labelOverlap": false, "labelBound": false, "grid": false}
}
}
